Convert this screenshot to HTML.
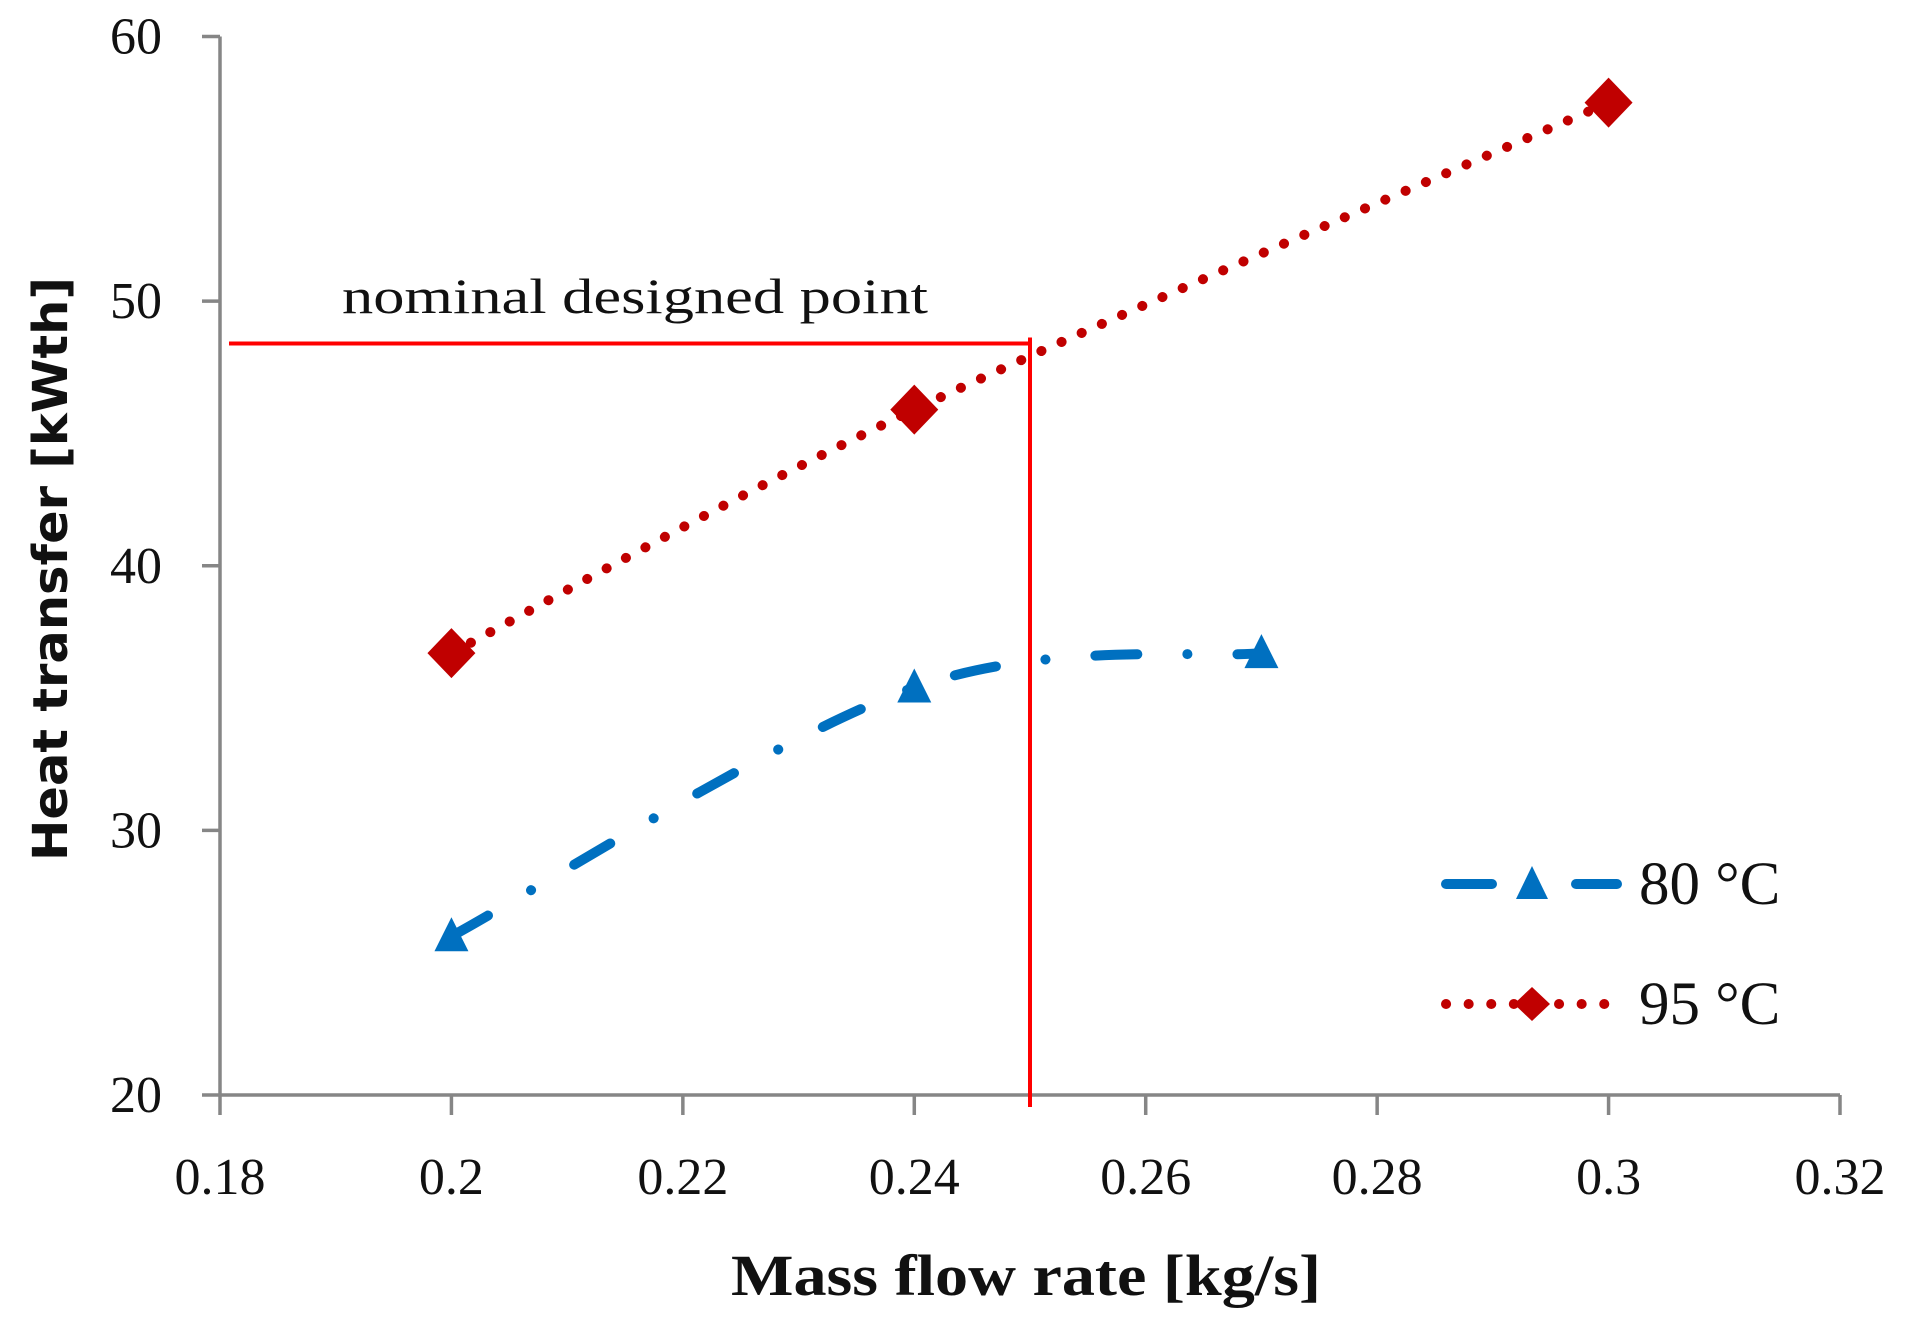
<!DOCTYPE html>
<html><head><meta charset="utf-8"><style>
html,body{margin:0;padding:0;background:#fff;}
svg{display:block;}
</style></head><body>
<svg id="chart" width="1907" height="1329" viewBox="0 0 1907 1329" xmlns="http://www.w3.org/2000/svg">
<g id="plot"></g>
</svg>
<script>
const xTicks = [0.18, 0.2, 0.22, 0.24, 0.26, 0.28, 0.3, 0.32];
const xTickLabels = ["0.18","0.2","0.22","0.24","0.26","0.28","0.3","0.32"];
const yTicks = [20, 30, 40, 50, 60];
const yTickLabels = ["20","30","40","50","60"];
const x80 = [0.2, 0.24, 0.27];
const y80 = [26.0, 35.4, 36.7];
const x95 = [0.2, 0.24, 0.3];
const y95 = [36.7, 45.9, 57.5];
const nominalX = [0.25];
const nominalY = [48.4];

const NS = "http://www.w3.org/2000/svg";
const L = 220, R = 1840, T = 36.5, B = 1095;
function sx(v){ return L + (v - 0.18) / (0.32 - 0.18) * (R - L); }
function sy(v){ return B - (v - 20) / (60 - 20) * (B - T); }
const g = document.getElementById('plot');
function mk(tag, attrs, parent){
  const e = document.createElementNS(NS, tag);
  for (const k in attrs) e.setAttribute(k, attrs[k]);
  (parent || g).appendChild(e);
  return e;
}
function smooth(xs, ys){
  const p = xs.map((x,i)=>[sx(x), sy(ys[i])]);
  let d = "M" + p[0][0] + "," + p[0][1];
  for (let i = 0; i < p.length - 1; i++){
    const p0 = p[i-1] || p[i], p1 = p[i], p2 = p[i+1], p3 = p[i+2] || p[i+1];
    const c1 = [p1[0] + (p2[0]-p0[0])/6, p1[1] + (p2[1]-p0[1])/6];
    const c2 = [p2[0] - (p3[0]-p1[0])/6, p2[1] - (p3[1]-p1[1])/6];
    d += " C" + c1[0] + "," + c1[1] + " " + c2[0] + "," + c2[1] + " " + p2[0] + "," + p2[1];
  }
  return d;
}
const serif = '"Liberation Serif", serif';

let ax = mk('line', {x1:L, y1:T, x2:L, y2:B, stroke:'#868686', 'stroke-width':3.5});


ax = mk('line', {x1:L, y1:B, x2:R, y2:B, stroke:'#868686', 'stroke-width':3.5});



yTicks.forEach((v,i)=>{
  const t = mk('line', {x1:L-18, y1:sy(v), x2:L, y2:sy(v), stroke:'#868686', 'stroke-width':3.5});
  
  
  const tx = mk('text', {x:162, y:sy(v)+17, 'text-anchor':'end', 'font-family':serif, 'font-size':52, fill:'#111'});
  
  
  tx.textContent = yTickLabels[i];
});
xTicks.forEach((v,i)=>{
  const t = mk('line', {x1:sx(v), y1:B, x2:sx(v), y2:B+20, stroke:'#868686', 'stroke-width':3.5});
  
  
  const tx = mk('text', {x:sx(v), y:1194, 'text-anchor':'middle', 'font-family':serif, 'font-size':52, fill:'#111'});
  
  
  tx.textContent = xTickLabels[i];
});

let tt = mk('text', {x:(L+R)/2 - 4, y:1295, 'text-anchor':'middle', 'font-family':serif, 'font-weight':'bold', 'font-size':58, fill:'#111', textLength:590, lengthAdjust:'spacingAndGlyphs'});


tt.textContent = 'Mass flow rate [kg/s]';
tt = mk('text', {x:0, y:0, 'text-anchor':'middle', 'font-family':'"DejaVu Sans", "Liberation Sans", sans-serif', 'font-weight':'bold', 'font-size':48, fill:'#111', textLength:584, lengthAdjust:'spacingAndGlyphs', transform:'translate(67,569) rotate(-90)'});


tt.textContent = 'Heat transfer [kWth]';

let nl = mk('line', {x1:229, y1:sy(nominalY[0]), x2:sx(nominalX[0]), y2:sy(nominalY[0]), stroke:'#ff0000', 'stroke-width':4});


nl = mk('line', {x1:sx(nominalX[0]), y1:sy(nominalY[0])-6, x2:sx(nominalX[0]), y2:1107, stroke:'#ff0000', 'stroke-width':4});


let nt = mk('text', {x:342, y:313, 'font-family':serif, 'font-size':50, fill:'#111', textLength:586, lengthAdjust:'spacingAndGlyphs'});


nt.textContent = 'nominal designed point';

let s = mk('path', {d:smooth(x95, y95), fill:'none', stroke:'#c00000', 'stroke-width':10, 'stroke-linecap':'round', 'stroke-dasharray':'0.1 22'});


x95.forEach((x,i)=>{
  const cx = sx(x), cy = sy(y95[i]);
  const m = mk('polygon', {points:`${cx},${cy-25} ${cx+24},${cy} ${cx},${cy+25} ${cx-24},${cy}`, fill:'#c00000'});
  
  
});
s = mk('path', {d:smooth(x80, y80), fill:'none', stroke:'#0070c0', 'stroke-width':10, 'stroke-linecap':'round', 'stroke-dasharray':'42 50 0.1 50'});


x80.forEach((x,i)=>{
  const cx = sx(x), cy = sy(y80[i]);
  const m = mk('polygon', {points:`${cx},${cy-19} ${cx+17},${cy+15} ${cx-17},${cy+15}`, fill:'#0070c0'});
  
  
});

const lg = mk('g', {});


let e = mk('line', {x1:1446, y1:884, x2:1492, y2:884, stroke:'#0070c0', 'stroke-width':10, 'stroke-linecap':'round'}, lg);


e = mk('line', {x1:1576, y1:884, x2:1617, y2:884, stroke:'#0070c0', 'stroke-width':10, 'stroke-linecap':'round'}, lg);


e = mk('polygon', {points:'1532,866 1548,899 1516,899', fill:'#0070c0'}, lg);


e = mk('text', {x:1639, y:904, 'font-family':serif, 'font-size':61, fill:'#111'}, lg);


e.textContent = '80 °C';
e = mk('line', {x1:1446, y1:1004, x2:1612, y2:1004, stroke:'#c00000', 'stroke-width':10, 'stroke-linecap':'round', 'stroke-dasharray':'0.1 22.5'}, lg);


e = mk('polygon', {points:'1532,987 1550,1004 1532,1021 1514,1004', fill:'#c00000'}, lg);


e = mk('text', {x:1639, y:1024, 'font-family':serif, 'font-size':61, fill:'#111'}, lg);


e.textContent = '95 °C';
</script>
</body></html>
